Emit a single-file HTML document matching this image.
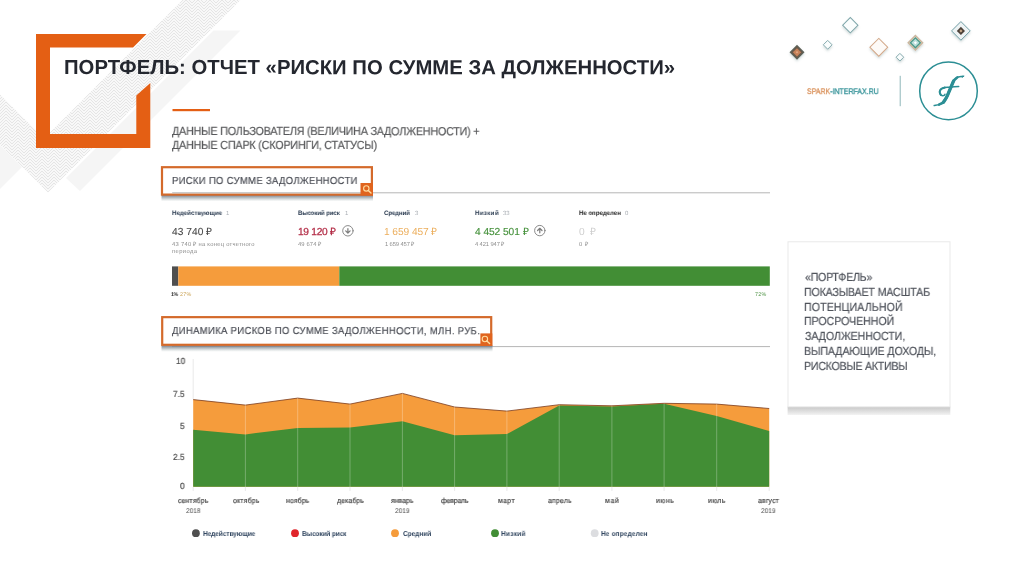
<!DOCTYPE html>
<html lang="ru">
<head>
<meta charset="utf-8">
<title>Портфель</title>
<style>
html,body{margin:0;padding:0;background:#fff;}
body{width:1024px;height:574px;overflow:hidden;font-family:"Liberation Sans",sans-serif;}
#s{position:relative;width:1024px;height:574px;overflow:hidden;background:#fff;}
.t{position:absolute;white-space:nowrap;line-height:1;display:block;will-change:transform;transform-origin:0 0;}
.r{display:inline-block;transform:rotate(0.03deg);transform-origin:0 100%;}
svg{position:absolute;left:0;top:0;}
</style>
</head>
<body>
<div id="s">
<svg width="1024" height="574" viewBox="0 0 1024 574">
<defs>
<pattern id="hz" width="12" height="3" patternUnits="userSpaceOnUse">
<rect width="12" height="3" fill="#f8f8f8"/>
<path d="M0 0 L6 -6 L12 0 M0 3 L6 -3 L12 3 M0 6 L6 0 L12 6 M0 9 L6 3 L12 9" fill="none" stroke="#e3e3e3" stroke-width="0.9"/>
</pattern>
<linearGradient id="g1" x1="0" y1="0" x2="0" y2="1"><stop offset="0" stop-color="#6f7482" stop-opacity="0.95"/><stop offset="0.45" stop-color="#8f9aa0" stop-opacity="0.6"/><stop offset="1" stop-color="#b8c4c4" stop-opacity="0"/></linearGradient>
<linearGradient id="g2" x1="0" y1="0" x2="0" y2="1"><stop offset="0" stop-color="#c6c6c6"/><stop offset="1" stop-color="#f3f3f3"/></linearGradient>
<filter id="ds" x="-20%" y="-20%" width="140%" height="160%"><feDropShadow dx="0" dy="1.6" stdDeviation="1.1" flood-color="#5f8080" flood-opacity="0.3"/></filter>
</defs>
<!-- grey decorative bands -->
<g id="bands">
<polygon points="213.5,30.5 240.5,30.5 80,191 66,178" fill="#f5f5f5"/>
<polygon points="0,145 0,189 22,167" fill="#f5f5f5"/>
<polygon points="182.5,0 240.5,0 48,192.5 0,144.5 0,94.5 44,138.5" fill="url(#hz)"/>
</g>
<!-- orange frame -->
<g fill="#E45F14">
<polygon points="36,34 146.5,34 133,47.5 50,47.5 50,134 136.3,134 136.3,95.5 150.3,83 150.3,148 36,148"/>
<rect x="172.5" y="109" width="37.5" height="2.2"/>
</g>
<!-- separator lines -->
<rect x="172" y="192.3" width="598" height="1" fill="#b5b5b5"/>
<rect x="172" y="346.1" width="598" height="1" fill="#b5b5b5"/>
<!-- box shadows -->
<rect x="161.5" y="195" width="211.5" height="6.5" fill="url(#g1)"/>
<rect x="161.5" y="345.4" width="331" height="6.5" fill="url(#g1)"/>
<!-- boxes -->
<rect x="162" y="167.2" width="209.9" height="27.4" fill="#fff" stroke="#D46A2B" stroke-width="2.2"/>
<rect x="162.2" y="317.15" width="329" height="27.65" fill="#fff" stroke="#D46A2B" stroke-width="2.2"/>
<rect x="172.2" y="192.3" width="189" height="1" fill="#b5b5b5"/>
<!-- search icons -->
<g>
<rect x="360.5" y="183" width="12.5" height="12.6" fill="#E0641E"/>
<circle cx="366.3" cy="188.4" r="2.7" fill="none" stroke="#FFDDA0" stroke-width="1.1"/>
<path d="M368.3 190.5 L371 193.1" stroke="#FFDDA0" stroke-width="1.4" stroke-linecap="round"/>
<rect x="480.4" y="333.4" width="11.9" height="12.5" fill="#E0641E"/>
<circle cx="484.9" cy="339" r="2.7" fill="none" stroke="#FFDDA0" stroke-width="1.1"/>
<path d="M486.9 341.1 L489.6 343.6" stroke="#FFDDA0" stroke-width="1.4" stroke-linecap="round"/>
</g>
<!-- stacked bar -->
<rect x="172" y="266.4" width="6.3" height="19.4" fill="#4f4f4f"/>
<rect x="178.3" y="266.4" width="161" height="19.4" fill="#F59C3C"/>
<rect x="339.3" y="266.4" width="430.5" height="19.4" fill="#428E35"/>
<!-- arrow icons -->
<g fill="none" stroke="#7d7d7d" stroke-linecap="round" stroke-linejoin="round">
<circle cx="347.9" cy="230.8" r="5.2" stroke-width="0.9"/>
<path d="M347.9 228.7 V232.8 M345.7 230.9 L347.9 233.1 L350.1 230.9" stroke-width="1.25"/>
<circle cx="539.8" cy="230.6" r="5.2" stroke-width="0.9"/>
<path d="M539.8 232.8 V228.7 M537.6 230.5 L539.8 228.3 L542 230.5" stroke-width="1.25"/>
</g>
<!-- chart -->
<g id="chart">
<polygon fill="#F59C3C" points="193.2,399.6 245.4,405.1 297.7,398.1 350,404.1 402.4,393.4 454.6,407 506.9,411.1 559.2,404.7 611.9,405.8 664.1,403.3 716.7,404.1 769.2,408.5 769.2,486.8 193.2,486.8"/>
<polygon fill="#428E35" points="193.2,429.7 245.4,434.4 297.7,427.9 350,427.6 402.4,421.3 454.6,435.2 506.9,434.1 559.2,405.5 611.9,406.4 664.1,403.8 716.7,416.1 769.2,431 769.2,486.8 193.2,486.8"/>
<polyline fill="none" stroke="#7a3b1e" stroke-width="0.8" points="193.2,399.6 245.4,405.1 297.7,398.1 350,404.1 402.4,393.4 454.6,407 506.9,411.1 559.2,404.7 611.9,405.8 664.1,403.3 716.7,404.1 769.2,408.5"/>
<g stroke="#ffffff" stroke-opacity="0.35" stroke-width="0.8">
<path d="M245.4 405 V487 M297.7 398 V487 M350 404 V487 M402.4 393.5 V487 M454.6 407 V487 M506.9 411 V487 M559.2 405 V487 M611.9 406 V487 M664.1 403.5 V487 M716.7 404 V487"/>
</g>
<g stroke="#e3e3e3" stroke-width="0.8">
<path d="M193.2 359 V399 M193.2 487 V491 M245.4 487 V491 M297.7 487 V491 M350 487 V491 M402.4 487 V491 M454.6 487 V491 M506.9 487 V491 M559.2 487 V491 M611.9 487 V491 M664.1 487 V491 M716.7 487 V491 M769.2 487 V491"/>
</g>
</g>
<!-- legend dots -->
<circle cx="195.9" cy="533.2" r="3.9" fill="#4f4f4f"/>
<circle cx="295" cy="533.2" r="3.9" fill="#E0252B"/>
<circle cx="395" cy="533.2" r="3.9" fill="#F59C3C"/>
<circle cx="495" cy="533.2" r="3.9" fill="#428E35"/>
<circle cx="594.7" cy="533.2" r="3.9" fill="#dcdde0"/>
<!-- side box -->
<rect x="787.6" y="406.5" width="162.7" height="8.5" fill="url(#g2)"/>
<rect x="788" y="241.8" width="162" height="165" fill="#fff" stroke="#e9e9e9" stroke-width="1"/>
<!-- logo -->
<rect x="899.7" y="75.8" width="1" height="30.4" fill="#8fb7ba"/>
<circle cx="948.5" cy="90.9" r="28.8" fill="none" stroke="#2B8E94" stroke-width="1.5"/>
<g id="ff" fill="none" stroke="#2B8E94" stroke-linecap="round" stroke-linejoin="round">
<path d="M934.2 105.5 C935.0 105.3 937.5 105.1 939.0 104.6 C940.5 104.0 942.2 103.3 943.4 102.2 C944.6 101.1 945.3 99.6 946.3 97.8 C947.3 96.0 948.4 93.2 949.2 91.2 C950.1 89.2 950.7 87.8 951.4 86.1 C952.1 84.4 952.6 82.5 953.6 81.0 C954.6 79.5 956.1 78.0 957.3 77.3 C958.5 76.6 959.9 76.8 960.9 76.6 C961.9 76.4 963.1 76.3 963.5 76.2" stroke-width="1.5"/>
<path d="M939.0 104.6 C939.7 104.2 942.2 103.3 943.4 102.2 C944.6 101.1 945.3 99.6 946.3 97.8 C947.3 96.0 948.4 93.2 949.2 91.2 C950.1 89.2 950.7 87.8 951.4 86.1 C952.1 84.4 952.6 82.5 953.6 81.0 C954.6 79.5 956.7 77.9 957.3 77.3" stroke-width="2.6"/>
<path d="M943.4 102.2 C943.9 101.5 945.3 99.6 946.3 97.8 C947.3 96.0 948.4 93.2 949.2 91.2 C950.1 89.2 950.7 87.8 951.4 86.1 C952.1 84.4 953.2 81.8 953.6 81.0" stroke-width="3.3"/>
<path d="M958.7 86.5 C957.2 86.6 952.3 87.0 950.0 87.2 C947.7 87.4 946.3 87.3 944.8 87.6 C943.3 87.9 942.1 88.3 941.2 89.0 C940.4 89.7 939.8 90.9 939.7 91.9 C939.6 92.9 940.1 94.3 940.8 94.9 C941.5 95.5 943.0 95.7 943.7 95.6 C944.4 95.5 944.8 94.5 945.0 94.3" stroke-width="1.5"/>
<path d="M944.8 87.6 C944.2 87.8 942.1 88.3 941.2 89.0 C940.4 89.7 939.8 90.9 939.7 91.9 C939.6 92.9 940.6 94.4 940.8 94.9" stroke-width="2.1"/>
<path d="M962.2 77.6 L963.6 76.1" stroke-width="1"/>
</g>
<!-- diamonds -->
<g id="dm" filter="url(#ds)">
<g transform="translate(797 52.3) rotate(45)">
<rect x="-5.3" y="-5.3" width="10.6" height="10.6" fill="#5c6259"/>
<rect x="-4.2" y="-4.2" width="8.4" height="8.4" fill="#6a5a4c"/>
<rect x="-2.9" y="-2.9" width="5.8" height="5.8" fill="#c7825a"/>
<rect x="-0.9" y="-0.9" width="1.8" height="1.8" fill="#e3a883"/>
</g>
<g transform="translate(827.7 44.8) rotate(45)"><rect x="-3.1" y="-3.1" width="6.2" height="6.2" fill="#fafdfd" stroke="#7fa6aa" stroke-width="0.9"/></g>
<g transform="translate(850.3 25.2) rotate(45)"><rect x="-5.4" y="-5.4" width="10.8" height="10.8" fill="#fafdfd" stroke="#7fa6aa" stroke-width="1"/></g>
<g transform="translate(878.8 47.3) rotate(45)"><rect x="-6.3" y="-6.3" width="12.6" height="12.6" fill="#fdfaf7" stroke="#d3a888" stroke-width="1"/></g>
<g transform="translate(899.9 57.2) rotate(45)"><rect x="-2.7" y="-2.7" width="5.4" height="5.4" fill="#fafdfd" stroke="#7fa6aa" stroke-width="0.9"/></g>
<g transform="translate(915.4 42.8) rotate(45)">
<rect x="-5.1" y="-5.1" width="10.2" height="10.2" fill="#e9ded0" stroke="#cbb69e" stroke-width="1.4"/>
<rect x="-3.5" y="-3.5" width="7" height="7" fill="#b9dedb" stroke="#4c9989" stroke-width="1.3"/>
<rect x="-1.1" y="-1.1" width="2.2" height="2.2" fill="#fff"/>
</g>
<g transform="translate(960.9 30.9) rotate(45)">
<rect x="-6.6" y="-6.6" width="13.2" height="13.2" fill="#eef3f4" stroke="#6b9aa3" stroke-width="0.9"/>
<rect x="-2.9" y="-2.9" width="5.8" height="5.8" fill="#4b4139"/>
<rect x="-1.1" y="-1.1" width="2.2" height="2.2" fill="#c9a98a"/>
</g>
</g>
</svg>

<span class="t" style="left:63.58px;top:56px;font-size:20.3px;line-height:22px;color:#24272f;font-weight:700;letter-spacing:0.022px;"><span class="r">ПОРТФЕЛЬ: ОТЧЕТ «РИСКИ ПО СУММЕ ЗА ДОЛЖЕННОСТИ»</span></span>
<span class="t" style="left:171.95px;top:124px;font-size:11.8px;line-height:14px;color:#58595b;letter-spacing:-0.211px;transform:scaleX(0.91);-webkit-text-stroke:0.2px;"><span class="r">ДАННЫЕ ПОЛЬЗОВАТЕЛЯ (ВЕЛИЧИНА ЗАДОЛЖЕННОСТИ) +</span></span>
<span class="t" style="left:171.95px;top:138px;font-size:11.8px;line-height:14px;color:#58595b;letter-spacing:-0.195px;transform:scaleX(0.91);-webkit-text-stroke:0.2px;"><span class="r">ДАННЫЕ СПАРК (СКОРИНГИ, СТАТУСЫ)</span></span>
<span class="t" style="left:171.84px;top:175px;font-size:10.2px;line-height:11px;color:#4a4d55;letter-spacing:0.354px;transform:scaleX(0.93);-webkit-text-stroke:0.2px;"><span class="r">РИСКИ ПО СУММЕ ЗАДОЛЖЕННОСТИ</span></span>
<span class="t" style="left:172.15px;top:325px;font-size:10.2px;line-height:11px;color:#4a4d55;letter-spacing:0.369px;transform:scaleX(0.93);-webkit-text-stroke:0.2px;"><span class="r">ДИНАМИКА РИСКОВ ПО СУММЕ ЗАДОЛЖЕННОСТИ, МЛН. РУБ.</span></span>
<span class="t" style="left:171.80px;top:209px;font-size:6.4px;line-height:7px;color:#26374d;font-weight:700;letter-spacing:0.037px;transform:scaleX(0.95);"><span class="r">Недействующие</span></span>
<span class="t" style="left:226.05px;top:210px;font-size:6.0px;line-height:6px;color:#a9aeb4;"><span class="r">1</span></span>
<span class="t" style="left:298.00px;top:209px;font-size:6.4px;line-height:7px;color:#26374d;font-weight:700;letter-spacing:-0.090px;transform:scaleX(0.95);"><span class="r">Высокий риск</span></span>
<span class="t" style="left:344.55px;top:210px;font-size:6.0px;line-height:6px;color:#a9aeb4;"><span class="r">1</span></span>
<span class="t" style="left:384.46px;top:209px;font-size:6.4px;line-height:7px;color:#26374d;font-weight:700;letter-spacing:-0.093px;transform:scaleX(0.95);"><span class="r">Средний</span></span>
<span class="t" style="left:414.79px;top:210px;font-size:6.0px;line-height:6px;color:#a9aeb4;"><span class="r">3</span></span>
<span class="t" style="left:474.50px;top:209px;font-size:6.4px;line-height:7px;color:#26374d;font-weight:700;letter-spacing:0.410px;transform:scaleX(0.95);"><span class="r">Низкий</span></span>
<span class="t" style="left:502.79px;top:210px;font-size:6.0px;line-height:6px;color:#a9aeb4;"><span class="r">33</span></span>
<span class="t" style="left:578.60px;top:209px;font-size:6.4px;line-height:7px;color:#222;font-weight:700;letter-spacing:-0.014px;transform:scaleX(0.95);"><span class="r">Не определен</span></span>
<span class="t" style="left:625.29px;top:210px;font-size:6.0px;line-height:6px;color:#a9aeb4;"><span class="r">0</span></span>
<span class="t" style="left:172.10px;top:226px;font-size:10.2px;line-height:11px;color:#484848;letter-spacing:0.037px;-webkit-text-stroke:0.1px;"><span class="r">43 740 ₽</span></span>
<span class="t" style="left:298.34px;top:226px;font-size:10.2px;line-height:11px;color:#B22B45;letter-spacing:-0.297px;-webkit-text-stroke:0.25px;"><span class="r">19 120 ₽</span></span>
<span class="t" style="left:384.24px;top:226px;font-size:10.2px;line-height:11px;color:#ECAE5C;letter-spacing:-0.073px;"><span class="r">1 659 457 ₽</span></span>
<span class="t" style="left:474.80px;top:226px;font-size:10.2px;line-height:11px;color:#44903a;letter-spacing:-0.060px;-webkit-text-stroke:0.15px;"><span class="r">4 452 501 ₽</span></span>
<span class="t" style="left:578.94px;top:226px;font-size:10.2px;line-height:11px;color:#cfcfcf;letter-spacing:1.207px;"><span class="r">0 ₽</span></span>
<span class="t" style="left:172.18px;top:241px;font-size:5.8px;line-height:6px;color:#8c8c8c;letter-spacing:0.280px;"><span class="r">43 740 ₽ на конец отчетного</span></span>
<span class="t" style="left:171.92px;top:248px;font-size:5.8px;line-height:6px;color:#8c8c8c;letter-spacing:0.421px;"><span class="r">периода</span></span>
<span class="t" style="left:298.48px;top:241px;font-size:5.8px;line-height:6px;color:#8c8c8c;letter-spacing:0.125px;"><span class="r">49 674 ₽</span></span>
<span class="t" style="left:384.56px;top:241px;font-size:5.8px;line-height:6px;color:#8c8c8c;letter-spacing:-0.107px;"><span class="r">1 659 457 ₽</span></span>
<span class="t" style="left:474.88px;top:241px;font-size:5.8px;line-height:6px;color:#8c8c8c;letter-spacing:-0.109px;"><span class="r">4 421 947 ₽</span></span>
<span class="t" style="left:579.10px;top:241px;font-size:5.8px;line-height:6px;color:#8c8c8c;letter-spacing:0.631px;"><span class="r">0 ₽</span></span>
<span class="t" style="left:170.88px;top:291px;font-size:5.4px;line-height:6px;color:#333;font-weight:700;letter-spacing:-0.542px;"><span class="r">1%</span></span>
<span class="t" style="left:179.63px;top:291px;font-size:5.4px;line-height:6px;color:#c9a050;letter-spacing:0.279px;"><span class="r">27%</span></span>
<span class="t" style="left:755.13px;top:291px;font-size:5.4px;line-height:6px;color:#4a9040;letter-spacing:0.279px;"><span class="r">72%</span></span>
<span class="t" style="left:175.62px;top:356px;font-size:8.9px;line-height:10px;color:#4c4c4c;transform:scaleX(0.93);-webkit-text-stroke:0.2px;"><span class="r">10</span></span>
<span class="t" style="left:173.36px;top:389px;font-size:8.9px;line-height:10px;color:#4c4c4c;transform:scaleX(0.93);-webkit-text-stroke:0.2px;"><span class="r">7.5</span></span>
<span class="t" style="left:180.25px;top:421px;font-size:8.9px;line-height:10px;color:#4c4c4c;transform:scaleX(0.93);-webkit-text-stroke:0.2px;"><span class="r">5</span></span>
<span class="t" style="left:173.36px;top:452px;font-size:8.9px;line-height:10px;color:#4c4c4c;transform:scaleX(0.93);-webkit-text-stroke:0.2px;"><span class="r">2.5</span></span>
<span class="t" style="left:180.21px;top:481px;font-size:8.9px;line-height:10px;color:#4c4c4c;transform:scaleX(0.93);-webkit-text-stroke:0.2px;"><span class="r">0</span></span>
<span class="t" style="left:178.17px;top:496px;font-size:7.4px;line-height:9px;color:#4c4c4c;letter-spacing:0.152px;transform:scaleX(0.93);-webkit-text-stroke:0.2px;"><span class="r">сентябрь</span></span>
<span class="t" style="left:233.02px;top:496px;font-size:7.4px;line-height:9px;color:#4c4c4c;letter-spacing:0.221px;transform:scaleX(0.93);-webkit-text-stroke:0.2px;"><span class="r">октябрь</span></span>
<span class="t" style="left:286.00px;top:496px;font-size:7.4px;line-height:9px;color:#4c4c4c;letter-spacing:0.117px;transform:scaleX(0.93);-webkit-text-stroke:0.2px;"><span class="r">ноябрь</span></span>
<span class="t" style="left:336.72px;top:496px;font-size:7.4px;line-height:9px;color:#4c4c4c;letter-spacing:0.118px;transform:scaleX(0.93);-webkit-text-stroke:0.2px;"><span class="r">декабрь</span></span>
<span class="t" style="left:391.37px;top:496px;font-size:7.4px;line-height:9px;color:#4c4c4c;letter-spacing:-0.001px;transform:scaleX(0.93);-webkit-text-stroke:0.2px;"><span class="r">январь</span></span>
<span class="t" style="left:440.82px;top:496px;font-size:7.4px;line-height:9px;color:#4c4c4c;letter-spacing:-0.147px;transform:scaleX(0.93);-webkit-text-stroke:0.2px;"><span class="r">февраль</span></span>
<span class="t" style="left:498.45px;top:496px;font-size:7.4px;line-height:9px;color:#4c4c4c;letter-spacing:0.417px;transform:scaleX(0.93);-webkit-text-stroke:0.2px;"><span class="r">март</span></span>
<span class="t" style="left:547.82px;top:496px;font-size:7.4px;line-height:9px;color:#4c4c4c;letter-spacing:0.213px;transform:scaleX(0.93);-webkit-text-stroke:0.2px;"><span class="r">апрель</span></span>
<span class="t" style="left:605.25px;top:496px;font-size:7.4px;line-height:9px;color:#4c4c4c;letter-spacing:0.819px;transform:scaleX(0.93);-webkit-text-stroke:0.2px;"><span class="r">май</span></span>
<span class="t" style="left:655.55px;top:496px;font-size:7.4px;line-height:9px;color:#4c4c4c;letter-spacing:0.485px;transform:scaleX(0.93);-webkit-text-stroke:0.2px;"><span class="r">июнь</span></span>
<span class="t" style="left:707.80px;top:496px;font-size:7.4px;line-height:9px;color:#4c4c4c;letter-spacing:0.285px;transform:scaleX(0.93);-webkit-text-stroke:0.2px;"><span class="r">июль</span></span>
<span class="t" style="left:757.87px;top:496px;font-size:7.4px;line-height:9px;color:#4c4c4c;letter-spacing:0.200px;transform:scaleX(0.93);-webkit-text-stroke:0.2px;"><span class="r">август</span></span>
<span class="t" style="left:185.88px;top:507px;font-size:6.8px;line-height:7px;color:#4c4c4c;letter-spacing:0.077px;transform:scaleX(0.95);"><span class="r">2018</span></span>
<span class="t" style="left:395.08px;top:507px;font-size:6.8px;line-height:7px;color:#4c4c4c;letter-spacing:0.089px;transform:scaleX(0.95);"><span class="r">2019</span></span>
<span class="t" style="left:761.08px;top:507px;font-size:6.8px;line-height:7px;color:#4c4c4c;letter-spacing:0.089px;transform:scaleX(0.95);"><span class="r">2019</span></span>
<span class="t" style="left:202.68px;top:529px;font-size:7.2px;line-height:9px;color:#30455f;font-weight:700;letter-spacing:-0.043px;transform:scaleX(0.9);"><span class="r">Недействующие</span></span>
<span class="t" style="left:302.38px;top:529px;font-size:7.2px;line-height:9px;color:#30455f;font-weight:700;letter-spacing:-0.102px;transform:scaleX(0.9);"><span class="r">Высокий риск</span></span>
<span class="t" style="left:402.84px;top:529px;font-size:7.2px;line-height:9px;color:#30455f;font-weight:700;letter-spacing:-0.003px;transform:scaleX(0.9);"><span class="r">Средний</span></span>
<span class="t" style="left:501.48px;top:529px;font-size:7.2px;line-height:9px;color:#30455f;font-weight:700;letter-spacing:0.329px;transform:scaleX(0.9);"><span class="r">Низкий</span></span>
<span class="t" style="left:601.48px;top:529px;font-size:7.2px;line-height:9px;color:#30455f;font-weight:700;letter-spacing:0.177px;transform:scaleX(0.9);"><span class="r">Не определен</span></span>
<span class="t" style="left:804.57px;top:270px;font-size:11.7px;line-height:13px;color:#50545c;letter-spacing:-0.287px;transform:scaleX(0.91);-webkit-text-stroke:0.2px;"><span class="r">«ПОРТФЕЛЬ»</span></span>
<span class="t" style="left:804.15px;top:285px;font-size:11.7px;line-height:13px;color:#50545c;letter-spacing:-0.167px;transform:scaleX(0.91);-webkit-text-stroke:0.2px;"><span class="r">ПОКАЗЫВАЕТ МАСШТАБ</span></span>
<span class="t" style="left:804.15px;top:300px;font-size:11.7px;line-height:13px;color:#50545c;letter-spacing:0.100px;transform:scaleX(0.91);-webkit-text-stroke:0.2px;"><span class="r">ПОТЕНЦИАЛЬНОЙ</span></span>
<span class="t" style="left:804.15px;top:314px;font-size:11.7px;line-height:13px;color:#50545c;letter-spacing:-0.064px;transform:scaleX(0.91);-webkit-text-stroke:0.2px;"><span class="r">ПРОСРОЧЕННОЙ</span></span>
<span class="t" style="left:804.68px;top:329px;font-size:11.7px;line-height:13px;color:#50545c;letter-spacing:-0.078px;transform:scaleX(0.91);-webkit-text-stroke:0.2px;"><span class="r">ЗАДОЛЖЕННОСТИ,</span></span>
<span class="t" style="left:804.15px;top:344px;font-size:11.7px;line-height:13px;color:#50545c;letter-spacing:-0.095px;transform:scaleX(0.91);-webkit-text-stroke:0.2px;"><span class="r">ВЫПАДАЮЩИЕ ДОХОДЫ,</span></span>
<span class="t" style="left:804.15px;top:359px;font-size:11.7px;line-height:13px;color:#50545c;letter-spacing:-0.279px;transform:scaleX(0.91);-webkit-text-stroke:0.2px;"><span class="r">РИСКОВЫЕ АКТИВЫ</span></span>
<span class="t" style="left:807.39px;top:87px;font-size:8.1px;line-height:9px;color:#38949a;letter-spacing:0.023px;transform:scaleX(0.86);-webkit-text-stroke:0.35px;"><span class="r"><span style="color:#DB9560">SPARK</span>-INTERFAX.RU</span></span>
</div>
</body>
</html>
